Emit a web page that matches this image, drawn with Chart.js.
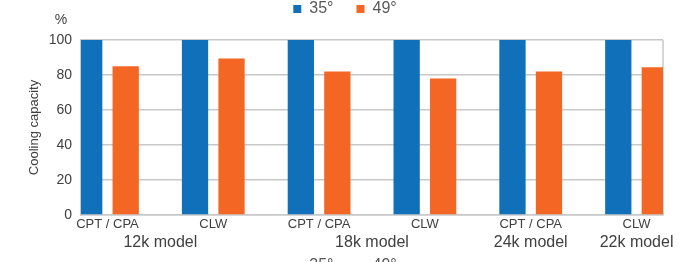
<!DOCTYPE html>
<html><head><meta charset="utf-8">
<script src="https://cdn.jsdelivr.net/npm/chart.js@4.4.0/dist/chart.umd.min.js"></script>
<style>
html,body{margin:0;padding:0;background:#fff;overflow:hidden;width:681px;height:262px;}
#wrap{position:absolute;left:0;top:-22px;width:681px;height:300px;}
canvas{display:block;}
</style></head><body>
<div id="wrap"><canvas id="c" width="681" height="300" style="width:681px;height:300px"></canvas></div>
<script>
// ---- data ----
const categories = ['CPT / CPA', 'CLW', 'CPT / CPA', 'CLW', 'CPT / CPA', 'CLW'];
const modelGroups = ['12k model', '18k model', '24k model', '22k model'];
const modelGroupSizes = [2, 2, 1, 1];
const seriesNames = ['35°', '49°'];
const values35 = [100, 100, 100, 100, 100, 100];
const values49 = [85, 89.5, 82, 78, 82, 84.5];
const yTicks = [0, 20, 40, 60, 80, 100];
const yTitle = 'Cooling capacity';
const yUnit = '%';

// ---- styles ----
const BLUE = '#1070BA';
const ORANGE = '#F46623';
const GRID = '#c8c8c8';
const TXT = '#404040';
const FONT = "'Liberation Sans', Arial, sans-serif";

// build category slots (spacer slot between consecutive pairs)
const slotUnits = [], slot35 = [], slot49 = [];
categories.forEach((c, i) => {
  if (i > 0) { slotUnits.push(''); slot35.push(null); slot49.push(null); }
  slotUnits.push(c); slot35.push(values35[i]); slot49.push(values49[i]);
});
const slotGroups = slotUnits.map(() => '');
let k = 0;
modelGroups.forEach((g, gi) => {
  const s = modelGroupSizes[gi];
  slotGroups[2 * k + s - 1] = g;
  k += s;
});

const extras = {
  id: 'extras',
  beforeDatasetsDraw(chart) {
    const {ctx, chartArea: a} = chart;
    ctx.save();
    ctx.strokeStyle = GRID; ctx.lineWidth = 1.5;
    ctx.beginPath(); ctx.moveTo(a.right, a.top); ctx.lineTo(a.right, a.bottom); ctx.stroke();
    ctx.restore();
  },
  afterDraw(chart) {
    const {ctx, chartArea: a} = chart;
    ctx.save();
    ctx.fillStyle = TXT;
    ctx.font = "14px " + FONT;
    ctx.textAlign = 'center'; ctx.textBaseline = 'middle';
    ctx.fillText(yUnit, a.left - 20, a.top - 19.5);
    // repeated legend labels at the bottom (mostly cut off)
    const lg = chart.legend;
    if (lg && lg.legendHitBoxes) {
      const y = a.bottom + 51;
      ctx.font = "16px " + FONT;
      ctx.textAlign = 'left';
      ctx.fillStyle = '#595959';
      lg.legendHitBoxes.forEach((hb, i) => {
        ctx.fillText(lg.legendItems[i].text, hb.left + 8 + 8, y);
      });
    }
    ctx.restore();
  }
};

new Chart(document.getElementById('c'), {
  type: 'bar',
  data: {
    labels: slotUnits,
    datasets: [
      {label: seriesNames[0], data: slot35, backgroundColor: BLUE, categoryPercentage: 1.38, barPercentage: 0.72},
      {label: seriesNames[1], data: slot49, backgroundColor: ORANGE, categoryPercentage: 1.38, barPercentage: 0.72}
    ]
  },
  options: {
    responsive: false,
    animation: false,
    events: [],
    layout: {padding: {left: 27, right: 18, top: 0, bottom: 26}},
    plugins: {
      legend: {
        position: 'top',
        labels: {boxWidth: 8, boxHeight: 8, padding: 23, color: '#595959', font: {family: FONT, size: 16}}
      },
      title: {
        display: true, text: '', position: 'top', weight: 500,
        font: {size: 10, lineHeight: 1}, padding: {top: 3, bottom: 0}
      },
      tooltip: {enabled: false}
    },
    scales: {
      x: {
        type: 'category', offset: true,
        grid: {display: false, drawTicks: false},
        border: {display: true, color: GRID, width: 1.5},
        ticks: {autoSkip: false, maxRotation: 0, minRotation: 0, padding: 2, color: TXT, font: {family: FONT, size: 13}},
        afterFit(s) { s.height = 17; }
      },
      x2: {
        type: 'category', labels: slotGroups, offset: true, position: 'bottom',
        grid: {display: false, drawTicks: false},
        border: {display: false},
        ticks: {autoSkip: false, maxRotation: 0, minRotation: 0, padding: 1, color: TXT, font: {family: FONT, size: 16}},
        afterFit(s) { s.height = 20; }
      },
      y: {
        min: 0, max: 100,
        afterBuildTicks(s) { s.ticks = yTicks.map(v => ({value: v})); },
        grid: {color: GRID, lineWidth: 1.5, drawTicks: false},
        border: {display: true, color: GRID, width: 1.5},
        ticks: {padding: 9, color: TXT, font: {family: FONT, size: 14}},
        title: {display: true, text: yTitle, color: TXT, font: {family: FONT, size: 13}, padding: 0},
        afterFit(s) { s.width = 54; }
      }
    }
  },
  plugins: [extras]
});
</script>
</body></html>
